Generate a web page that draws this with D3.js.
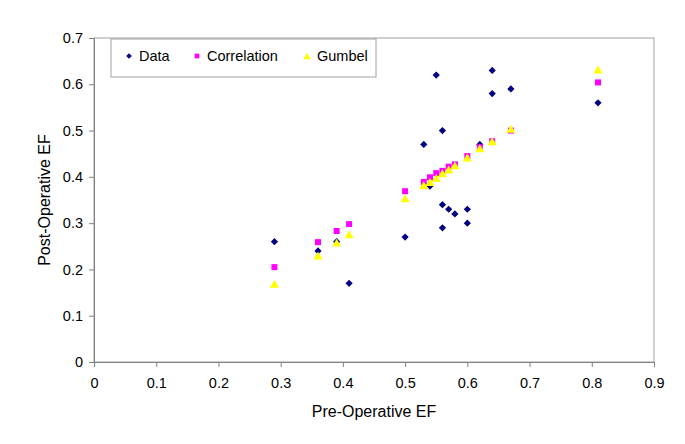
<!DOCTYPE html>
<html><head><meta charset="utf-8">
<script src="https://cdn.jsdelivr.net/npm/d3@7"></script>
<style>body{margin:0;background:#fff}svg{display:block;font-family:"Liberation Sans",Arial,sans-serif}</style>
</head><body>
<svg id="c" width="685" height="444"></svg>
<script>
const dataX = [0.29,0.36,0.39,0.41,0.50,0.53,0.54,0.55,0.56,0.56,0.56,0.57,0.58,0.60,0.60,0.62,0.64,0.64,0.67,0.81];
const dataY = [0.26,0.24,0.26,0.17,0.27,0.47,0.38,0.62,0.50,0.34,0.29,0.33,0.32,0.33,0.30,0.47,0.63,0.58,0.59,0.56];
const fitX = [0.29,0.36,0.39,0.41,0.50,0.53,0.54,0.55,0.56,0.57,0.58,0.60,0.62,0.64,0.67,0.81];
const corrY = [0.205,0.259,0.283,0.298,0.369,0.389,0.399,0.408,0.413,0.422,0.427,0.445,0.464,0.477,0.500,0.604];
const gumbY = [0.166,0.227,0.255,0.273,0.351,0.379,0.386,0.395,0.405,0.413,0.422,0.439,0.459,0.474,0.501,0.629];
const xTicks = [0,0.1,0.2,0.3,0.4,0.5,0.6,0.7,0.8,0.9];
const yTicks = [0,0.1,0.2,0.3,0.4,0.5,0.6,0.7];
const seriesNames = ["Data","Correlation","Gumbel"];
const colors = ["#000080","#FF00FF","#FFFF00"];

const svg = d3.select("#c");
const L=94,R=654,T=38,B=362;
const x = d3.scaleLinear().domain([0,0.9]).range([L,R]);
const y = d3.scaleLinear().domain([0,0.7]).range([B,T]);

svg.append("rect").attr("x",L).attr("y",T).attr("width",R-L).attr("height",B-T)
  .attr("fill","none").attr("stroke","#a0a0a0").attr("stroke-width",1);

const fmt = d => d===0 ? "0" : d3.format(".1f")(d);
const xa = svg.append("g").attr("transform",`translate(0,${B})`)
  .call(d3.axisBottom(x).tickValues(xTicks).tickFormat(fmt).tickSize(5).tickSizeOuter(0).tickPadding(11));
const ya = svg.append("g").attr("transform",`translate(${L},0)`)
  .call(d3.axisLeft(y).tickValues(yTicks).tickFormat(fmt).tickSize(5).tickSizeOuter(0).tickPadding(6));
[xa,ya].forEach(a=>{
  a.selectAll("path,line").attr("stroke","#808080");
  a.selectAll("text").attr("font-size",14.5).attr("fill","#000").attr("font-family","Liberation Sans, Arial, sans-serif");
});

svg.append("text").attr("x",(L+R)/2).attr("y",417).attr("text-anchor","middle")
  .attr("font-size",16).text("Pre-Operative EF");
svg.append("text").attr("transform",`translate(50,${(T+B)/2}) rotate(-90)`).attr("text-anchor","middle")
  .attr("font-size",16).text("Post-Operative EF");

const diamond = d3.symbol().type(d3.symbolSquare).size(26);

svg.append("g").selectAll("path").data(dataX.map((v,i)=>[v,dataY[i]])).join("path")
  .attr("d",diamond).attr("transform",d=>`translate(${x(d[0])},${y(d[1])}) rotate(45)`)
  .attr("fill",colors[0]);
svg.append("g").selectAll("path").data(fitX.map((v,i)=>[v,corrY[i]])).join("path")
  .attr("d",d3.symbol().type(d3.symbolSquare).size(36)).attr("transform",d=>`translate(${x(d[0])},${y(d[1])})`)
  .attr("fill",colors[1]);
svg.append("g").selectAll("path").data(fitX.map((v,i)=>[v,gumbY[i]])).join("path")
  .attr("d",d3.symbol().type(d3.symbolTriangle).size(36)).attr("transform",d=>`translate(${x(d[0])},${y(d[1])})`)
  .attr("fill",colors[2]);

const lg = svg.append("g");
lg.append("rect").attr("x",111).attr("y",39).attr("width",265).attr("height",38)
  .attr("fill","#fff").attr("stroke","#a0a0a0");
const lx = [129,197,307];
seriesNames.forEach((n,i)=>{
  const p = lg.append("path").attr("fill",colors[i]);
  if(i===0) p.attr("d",d3.symbol().type(d3.symbolSquare).size(16)).attr("transform",`translate(${lx[i]},56) rotate(45)`);
  else if(i===1) p.attr("d",d3.symbol().type(d3.symbolSquare).size(22)).attr("transform",`translate(${lx[i]},56)`);
  else p.attr("d",d3.symbol().type(d3.symbolTriangle).size(24)).attr("transform",`translate(${lx[i]},57)`);
  lg.append("text").attr("x",lx[i]+10).attr("y",61).attr("font-size",14.5).text(n);
});
</script>
</body></html>
